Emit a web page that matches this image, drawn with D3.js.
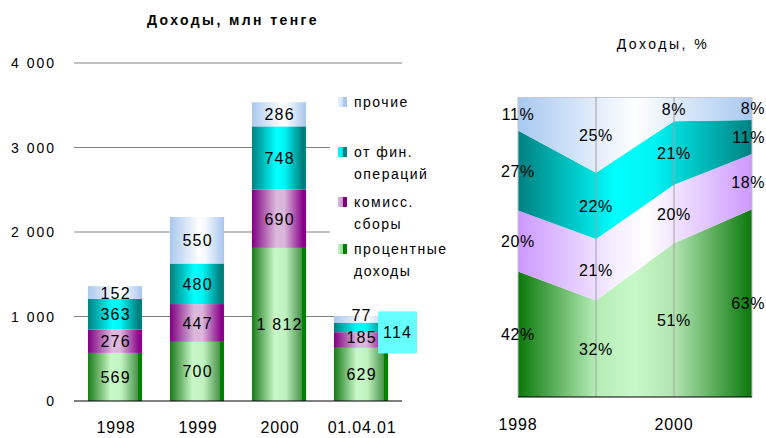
<!DOCTYPE html>
<html><head><meta charset="utf-8">
<script src="https://cdn.jsdelivr.net/npm/d3@7"></script>
<style>body{margin:0;background:#fff} svg{display:block;font-family:"Liberation Sans",Arial,sans-serif}</style>
</head><body><svg id="c" width="766" height="438"></svg>
<script>
// ---- data ----
const categories = ["1998", "1999", "2000", "01.04.01"];
const interest   = [569, 700, 1812, 629];   // процентные доходы
const commission = [276, 447, 690, 185];    // комисс. сборы
const finOps     = [363, 480, 748, 114];    // от фин. операций
const other      = [152, 550, 286, 77];     // прочие
const seriesKeys = ["interest", "commission", "finOps", "other"];
const legendLabels = [["процентные", "доходы"], ["комисс.", "сборы"], ["от фин.", "операций"], ["прочие"]];
const yTicks = [0, 1000, 2000, 3000, 4000];
const pctTickLabels = ["1998", "2000"];
const titleLeft = "Доходы, млн тенге";
const titleRight = "Доходы, %";

const rows = categories.map((c, i) => ({cat: c, interest: interest[i], commission: commission[i], finOps: finOps[i], other: other[i]}));

const loc = d3.formatLocale({decimal: ",", thousands: " ", grouping: [3], currency: ["", ""]});
const fmt = loc.format(",");
const pct = d3.format(".0%");

const svg = d3.select("#c");
const defs = svg.append("defs");

const barGrad = {
  interest:   [[0,"#1a7a1a"],[0.42,"#c8f8c8"],[0.62,"#c0f2c0"],[0.92,"#4a944a"],[0.93,"#008000"],[1,"#008000"]],
  commission: [[0,"#800080"],[0.45,"#dcbadc"],[0.6,"#dab6da"],[0.95,"#880088"],[1,"#900090"]],
  finOps:     [[0,"#008080"],[0.45,"#00ffff"],[0.6,"#00f6f6"],[0.95,"#007878"],[1,"#008888"]],
  other:      [[0,"#aac8ee"],[0.55,"#ffffff"],[0.65,"#f6f9fe"],[1,"#a8c6ee"]]
};
const areaGrad = {
  interest:   [[0,"#0a780a"],[0.33,"#b4ecb4"],[0.5,"#c8f8c8"],[0.67,"#b0e4b0"],[1,"#0a780a"]],
  commission: [[0,"#cc99ff"],[0.4,"#f4ecff"],[0.55,"#ffffff"],[1,"#cc99ff"]],
  finOps:     [[0,"#008080"],[0.42,"#00ffff"],[0.58,"#00f4f4"],[1,"#008080"]],
  other:      [[0,"#a8c8f0"],[0.5,"#ffffff"],[1,"#a8c8f0"]]
};
const swatchGrad = {
  interest:   [[0,"#c8f8c8"],[0.6,"#90d090"],[0.61,"#008000"],[1,"#008000"]],
  commission: [[0,"#dcbadc"],[0.6,"#c090c0"],[0.61,"#800080"],[1,"#800080"]],
  finOps:     [[0,"#00ffff"],[0.6,"#00e0e0"],[0.61,"#008080"],[1,"#008080"]],
  other:      [[0,"#e8f0fc"],[0.6,"#d0e0f8"],[0.61,"#a8c8f0"],[1,"#a8c8f0"]]
};
function mkGrad(id, stops, user, x1, x2) {
  const g = defs.append("linearGradient").attr("id", id);
  if (user) g.attr("gradientUnits", "userSpaceOnUse").attr("x1", x1).attr("x2", x2).attr("y1", 0).attr("y2", 0);
  else g.attr("x1", 0).attr("x2", 1).attr("y1", 0).attr("y2", 0);
  stops.forEach(s => g.append("stop").attr("offset", s[0]).attr("stop-color", s[1]));
}

// ---------------- LEFT: stacked bars ----------------
const L = {x0: 74, x1: 402, y0: 401, y1: 63};
const x = d3.scaleBand().domain(categories).range([L.x0, L.x1]).paddingInner(0.34).paddingOuter(0.17);
const y = d3.scaleLinear().domain([0, 4000]).range([L.y0, L.y1]);

seriesKeys.forEach(k => mkGrad("bar-" + k, barGrad[k]));
seriesKeys.forEach(k => mkGrad("sw-" + k, swatchGrad[k]));

svg.append("text").attr("x", 233).attr("y", 25).attr("text-anchor", "middle")
  .attr("font-size", 14).attr("font-weight", "bold").attr("letter-spacing", 2.4).text(titleLeft);

svg.append("g").selectAll("line").data(yTicks.filter(t => t > 0)).join("line")
  .attr("x1", L.x0).attr("x2", L.x1).attr("y1", d => y(d)).attr("y2", d => y(d))
  .attr("stroke", "#808080").attr("stroke-width", 1);

svg.append("g").selectAll("text").data(yTicks).join("text")
  .attr("x", 56).attr("y", d => y(d) + 5).attr("text-anchor", "end")
  .attr("font-size", 14).attr("letter-spacing", 2).text(d => fmt(d));

svg.append("rect").attr("x", 330).attr("y", 82).attr("width", 90).attr("height", 205).attr("fill", "#fff");

const stacked = d3.stack().keys(seriesKeys)(rows);

const segG = svg.append("g");
stacked.forEach(layer => {
  segG.selectAll(null).data(layer).join("rect")
    .attr("x", d => x(d.data.cat)).attr("width", x.bandwidth())
    .attr("y", d => y(d[1])).attr("height", d => y(d[0]) - y(d[1]))
    .attr("fill", "url(#bar-" + layer.key + ")");
});

svg.append("line").attr("x1", L.x0).attr("x2", L.x1).attr("y1", y(0)).attr("y2", y(0)).attr("stroke", "#000");

stacked.forEach(layer => {
  layer.forEach(d => {
    const v = d[1] - d[0];
    const cx = x(d.data.cat) + x.bandwidth() / 2;
    const cy = (y(d[0]) + y(d[1])) / 2;
    if (y(d[0]) - y(d[1]) < 12 && layer.key === "finOps") {
      const bx = x(d.data.cat) + x.bandwidth() - 10;
      svg.append("rect").attr("x", bx).attr("y", cy - 16).attr("width", 39).attr("height", 42).attr("fill", "#66ffff");
      svg.append("text").attr("x", bx + 19.5).attr("y", cy + 11).attr("text-anchor", "middle")
        .attr("font-size", 16).attr("letter-spacing", 1.2).text(fmt(v));
    } else {
      const dy = (y(d[0]) - y(d[1]) < 12) ? 2 : 6;
      svg.append("text").attr("x", cx + 0.6).attr("y", cy + dy - (layer.key === "commission" && v < 200 ? 3 : 0)).attr("text-anchor", "middle")
        .attr("font-size", 16).attr("letter-spacing", 1.2).text(fmt(v));
    }
  });
});

svg.append("g").selectAll("text").data(categories).join("text")
  .attr("x", d => x(d) + x.bandwidth() / 2 + 1).attr("y", 433).attr("text-anchor", "middle")
  .attr("font-size", 16).attr("letter-spacing", 0.8).text(d => d);

const legendOrder = [3, 2, 1, 0];
const legY = [102, 152, 202, 249];
legendOrder.forEach((si, j) => {
  const k = seriesKeys[si];
  svg.append("rect").attr("x", 338).attr("y", legY[j] - 5).attr("width", 9).attr("height", 10).attr("fill", "url(#sw-" + k + ")");
  legendLabels[si].forEach((t, li) => {
    svg.append("text").attr("x", 354).attr("y", legY[j] + 5 + li * 21.5).attr("font-size", 14).attr("letter-spacing", 1.5).text(t);
  });
});

// ---------------- RIGHT: 100% stacked area ----------------
const R = {x0: 518, x1: 752, y0: 397, y1: 97};
const xp = d3.scalePoint().domain(categories).range([R.x0, R.x1]);
const yp = d3.scaleLinear().domain([0, 1]).range([R.y0, R.y1]);
seriesKeys.forEach(k => mkGrad("area-" + k, areaGrad[k], true, R.x0, R.x1));

svg.append("text").attr("x", 663).attr("y", 49).attr("text-anchor", "middle")
  .attr("font-size", 14).attr("letter-spacing", 2.5).text(titleRight);

const pstack = d3.stack().keys(seriesKeys).offset(d3.stackOffsetExpand)(rows);
const area = d3.area().x(d => xp(d.data.cat)).y0(d => yp(d[0])).y1(d => yp(d[1]));
svg.append("g").selectAll("path").data(pstack).join("path")
  .attr("d", area).attr("fill", d => "url(#area-" + d.key + ")");

svg.append("line").attr("x1", R.x0).attr("x2", R.x1).attr("y1", R.y1 + 0.5).attr("y2", R.y1 + 0.5).attr("stroke", "#c8c8d0");
svg.append("g").selectAll("line").data(categories).join("line")
  .attr("x1", d => xp(d)).attr("x2", d => xp(d)).attr("y1", R.y1).attr("y2", R.y0)
  .attr("stroke", (d, i) => (i === 0 || i === categories.length - 1) ? "#c0c0c8" : "#a0a0a0");
svg.append("line").attr("x1", R.x0).attr("x2", R.x1).attr("y1", R.y0).attr("y2", R.y0).attr("stroke", "#000");

const lastCat = categories[categories.length - 1];
pstack.forEach(layer => {
  svg.append("g").selectAll("text").data(layer).join("text")
    .attr("x", d => d.data.cat === lastCat ? 765 : xp(d.data.cat))
    .attr("y", d => (yp(d[0]) + yp(d[1])) / 2 + 6)
    .attr("text-anchor", d => d.data.cat === lastCat ? "end" : "middle")
    .attr("font-size", 16).attr("letter-spacing", 0.6)
    .text(d => pct(d[1] - d[0]));
});

svg.append("g").selectAll("text").data(pctTickLabels).join("text")
  .attr("x", d => xp(d)).attr("y", 430).attr("text-anchor", "middle")
  .attr("font-size", 16).attr("letter-spacing", 0.8).text(d => d);
</script>
</body></html>
